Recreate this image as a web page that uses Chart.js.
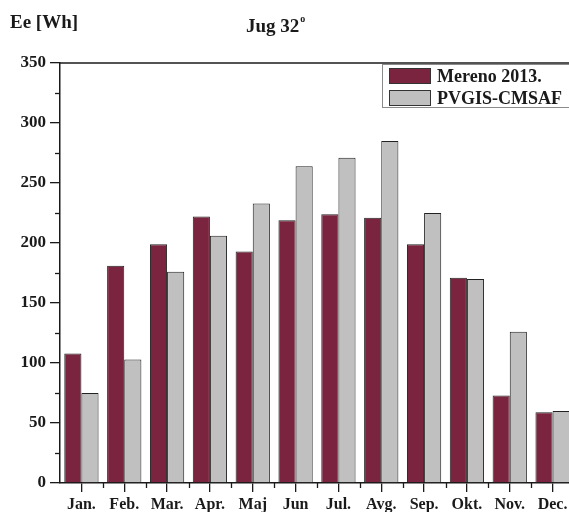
<!DOCTYPE html>
<html>
<head>
<meta charset="utf-8">
<script src="https://cdn.jsdelivr.net/npm/chart.js@4.4.0/dist/chart.umd.min.js"></script>
<style>
html, body { margin: 0; padding: 0; background: #fff; overflow: hidden; }
#wrap { width: 575px; height: 512px; }
</style>
</head>
<body>
<div id="wrap"><canvas id="c" width="575" height="512"></canvas></div>
<script>
// months (Serbian short names)
var labels = ['Jan.', 'Feb.', 'Mar.', 'Apr.', 'Maj', 'Jun', 'Jul.', 'Avg.', 'Sep.', 'Okt.', 'Nov.', 'Dec.'];
var mereno = [108, 181, 199, 222, 193, 219, 224, 221, 199, 171, 73, 59];
var pvgis = [75, 103, 176, 206, 233, 264, 271, 285, 225, 170, 126, 60];
var seriesNames = ['Mereno 2013.', 'PVGIS-CMSAF'];
var yMinorTicks = [25, 75, 125, 175, 225, 275, 325];

var serif = '"Liberation Serif", "Times New Roman", serif';
var ink = '#1a1a1a';

// minor ticks, top frame line, legend box and the titles
var extras = {
  id: 'extras',
  afterDraw: function (chart) {
    var ctx = chart.ctx;
    var area = chart.chartArea;
    var x = chart.scales.x;
    var y = chart.scales.y;
    ctx.save();
    ctx.strokeStyle = ink;
    ctx.lineWidth = 1.3;

    // top frame
    ctx.beginPath();
    ctx.moveTo(area.left, area.top);
    ctx.lineTo(area.right, area.top);
    ctx.stroke();

    // y minor ticks
    yMinorTicks.forEach(function (v) {
      var py = Math.round(y.getPixelForValue(v)) + 0.5;
      ctx.beginPath();
      ctx.moveTo(area.left - 5, py);
      ctx.lineTo(area.left, py);
      ctx.stroke();
    });

    // x minor ticks between months
    for (var i = 1; i < labels.length; i++) {
      var px = Math.round((x.getPixelForValue(i - 1) + x.getPixelForValue(i)) / 2) + 0.5;
      ctx.beginPath();
      ctx.moveTo(px, area.bottom);
      ctx.lineTo(px, area.bottom + 5);
      ctx.stroke();
    }

    // legend
    var lx = area.right - 192;
    var ly = area.top + 1;
    ctx.fillStyle = '#fff';
    ctx.fillRect(lx, ly, 200, 43);
    ctx.strokeStyle = '#8a8a8a';
    ctx.lineWidth = 1;
    ctx.strokeRect(lx + 0.5, ly + 0.5, 200, 43);
    ctx.font = 'bold 18px ' + serif;
    ctx.textBaseline = 'middle';
    chart.data.datasets.forEach(function (ds, k) {
      var sy = ly + 4 + k * 22;
      ctx.fillStyle = ds.backgroundColor;
      ctx.fillRect(lx + 7, sy, 42, 16);
      ctx.strokeStyle = '#333';
      ctx.strokeRect(lx + 7.5, sy + 0.5, 41, 15);
      ctx.fillStyle = ink;
      ctx.fillText(ds.label, lx + 55, sy + 9);
    });

    // axis title and chart title
    ctx.fillStyle = ink;
    ctx.textBaseline = 'alphabetic';
    ctx.font = 'bold 19px ' + serif;
    ctx.fillText('Ee [Wh]', 10, 28);
    ctx.fillText('Jug 32', 246, 32);
    var w = ctx.measureText('Jug 32').width;
    ctx.font = 'bold 10px ' + serif;
    ctx.fillText('o', 246 + w + 1, 22);
    ctx.restore();
  }
};

var data = {
  labels: labels,
  datasets: [{
    label: seriesNames[0],
    data: mereno,
    backgroundColor: '#7a243f',
    borderColor: '#222',
    borderWidth: 1
  }, {
    label: seriesNames[1],
    data: pvgis,
    backgroundColor: '#c0c0c0',
    borderColor: '#222',
    borderWidth: 1
  }]
};

var chartConfig = {
  type: 'bar',
  data: data,
  options: {
    responsive: false,
    animation: false,
    devicePixelRatio: 1,
    layout: { padding: { top: 63, right: 1, left: 0, bottom: 0 } },
    datasets: {
      bar: { categoryPercentage: 0.8, barPercentage: 1 }
    },
    plugins: {
      legend: { display: false },
      title: { display: false },
      tooltip: { enabled: false }
    },
    scales: {
      x: {
        offset: true,
        afterFit: function (scale) { scale.height = 29; },
        grid: {
          offset: false,
          drawOnChartArea: false,
          tickLength: 9,
          color: ink,
          lineWidth: 1.3
        },
        border: { color: ink, width: 1.5 },
        ticks: {
          color: ink,
          autoSkip: false,
          maxRotation: 0,
          padding: 3,
          font: { family: serif, size: 16, weight: 'bold' }
        }
      },
      y: {
        min: 0,
        max: 350,
        afterFit: function (scale) { scale.width = 60; },
        grid: {
          drawOnChartArea: false,
          tickLength: 10,
          color: ink,
          lineWidth: 1.3
        },
        border: { color: ink, width: 1.5 },
        ticks: {
          stepSize: 50,
          color: ink,
          padding: 4,
          font: { family: serif, size: 17, weight: 'bold' }
        }
      }
    }
  },
  plugins: [extras]
};

new Chart(document.getElementById('c'), chartConfig);
</script>
</body>
</html>
